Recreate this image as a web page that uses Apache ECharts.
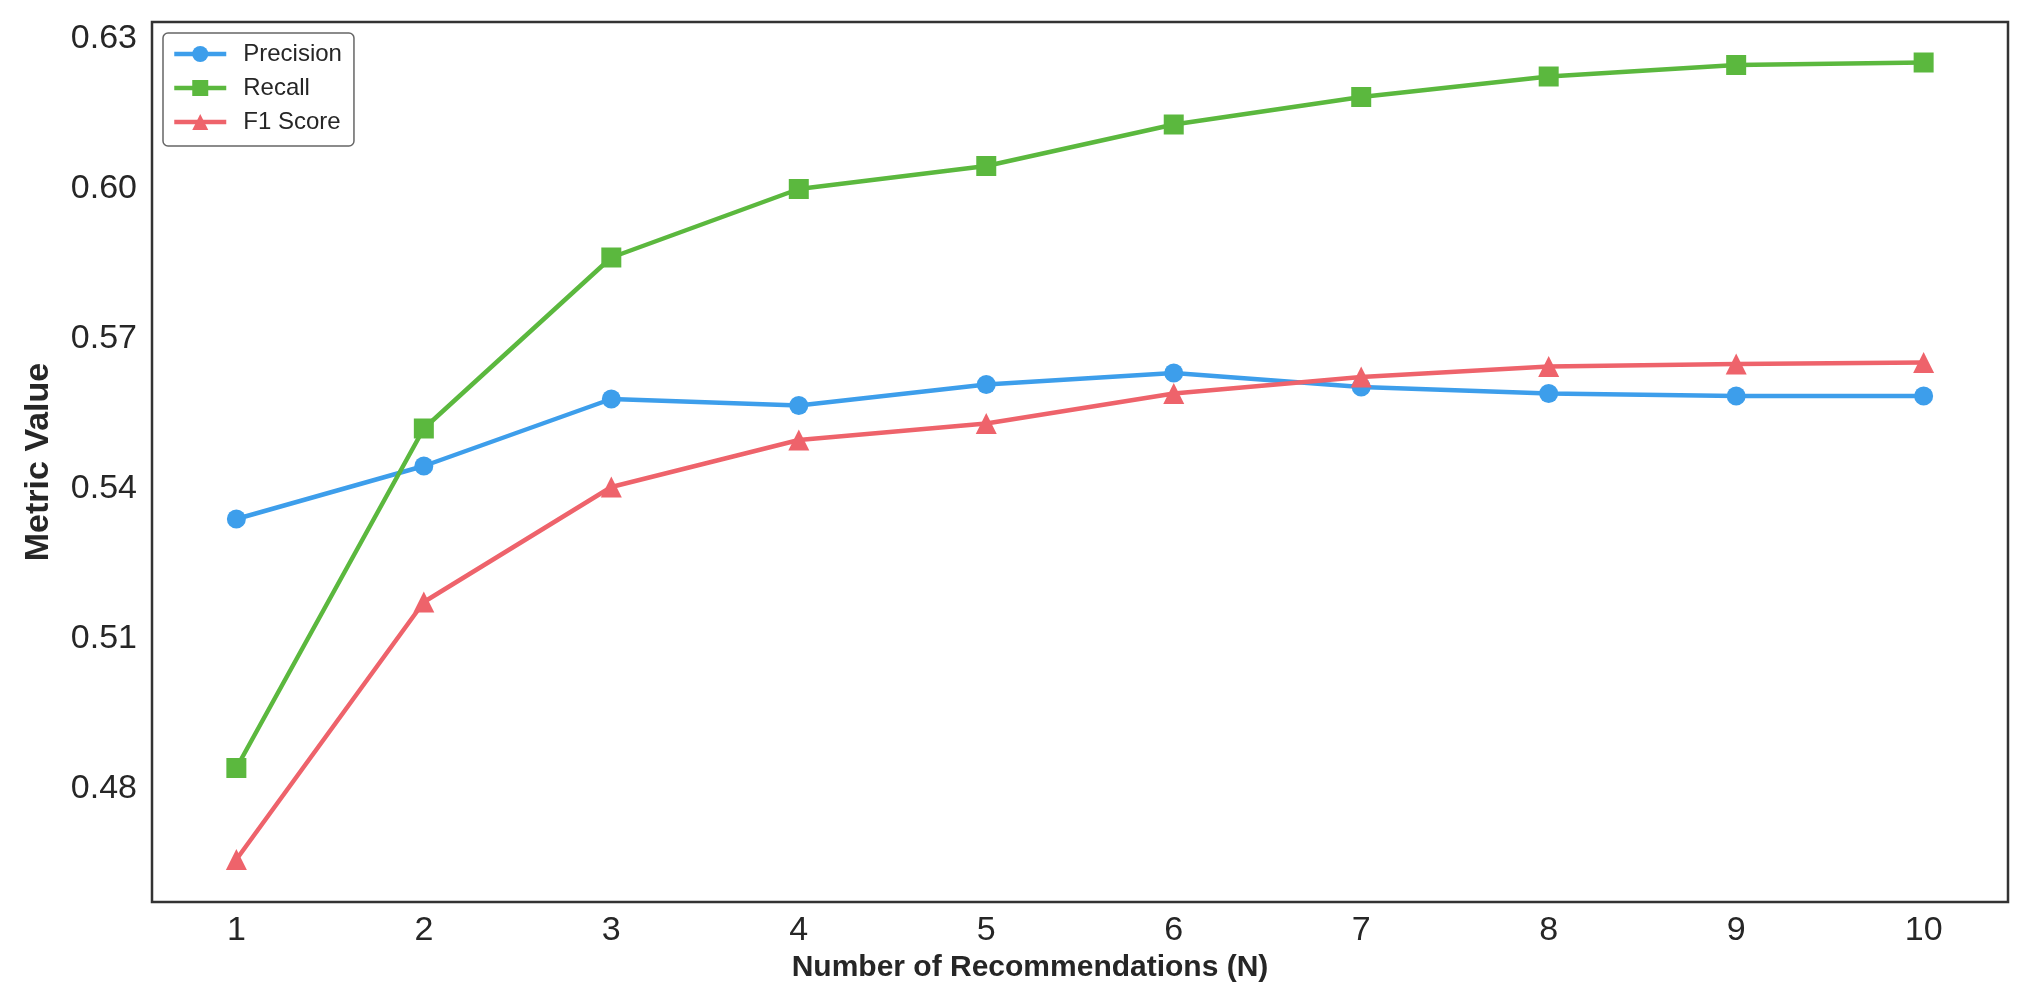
<!DOCTYPE html>
<html>
<head>
<meta charset="utf-8">
<script src="https://cdn.jsdelivr.net/npm/echarts@6/dist/echarts.min.js"></script>
<style>
html,body{margin:0;padding:0;background:#fff;}
#chart{width:2030px;height:1005px;}
</style>
</head>
<body>
<div id="chart"></div>
<script>
const categories = [1, 2, 3, 4, 5, 6, 7, 8, 9, 10];
const precision = [0.5340, 0.5446, 0.5580, 0.5567, 0.5609, 0.5632, 0.5604, 0.5591, 0.5586, 0.5586];
const recall    = [0.4842, 0.5521, 0.5863, 0.6000, 0.6046, 0.6129, 0.6184, 0.6225, 0.6248, 0.6253];
const f1score   = [0.4659, 0.5174, 0.5404, 0.5498, 0.5531, 0.5591, 0.5624, 0.5645, 0.5650, 0.5653];
const yTicks = [0.48, 0.51, 0.54, 0.57, 0.60, 0.63];

const FONT = '"Liberation Sans", Arial, "DejaVu Sans", sans-serif';
const TXT = '#262626';

function pairs(vals){ return categories.map((c,i)=>[c, vals[i]]); }

const chart = echarts.init(document.getElementById('chart'), null, {renderer:'canvas'});
chart.setOption({
  animation:false,
  backgroundColor:'#ffffff',
  grid:{left:152, right:22, top:22, bottom:103, show:true, borderColor:'#333333', borderWidth:2.5, backgroundColor:'#ffffff'},
  legend:{
    orient:'vertical', left:163, top:33,
    data:['Precision','Recall','F1 Score'],
    itemWidth:52, itemHeight:20, itemGap:10,
    padding:[9,12,12,9],
    backgroundColor:'#ffffff', borderColor:'#666666', borderWidth:1.5, borderRadius:5,
    lineStyle:{width:4.5},
    textStyle:{fontFamily:FONT, fontSize:24, color:TXT, padding:[0,0,0,12]}
  },
  xAxis:{
    type:'value', min:0.55, max:10.45,
    name:'Number of Recommendations (N)', nameLocation:'middle', nameGap:50,
    nameTextStyle:{fontFamily:FONT, fontSize:30, fontWeight:'bold', color:TXT, padding:[0,100,0,0]},
    axisLine:{show:false}, axisTick:{show:false}, splitLine:{show:false},
    axisLabel:{customValues:categories, fontFamily:FONT, fontSize:34, color:TXT, margin:12,
      formatter:v=>String(Math.round(v))}
  },
  yAxis:{
    type:'value', min:0.4574, max:0.6334,
    name:'Metric Value', nameLocation:'middle', nameGap:96,
    nameTextStyle:{fontFamily:FONT, fontSize:34, fontWeight:'bold', color:TXT},
    axisLine:{show:false}, axisTick:{show:false}, splitLine:{show:false},
    axisLabel:{customValues:yTicks, fontFamily:FONT, fontSize:34, color:TXT, margin:15,
      formatter:v=>v.toFixed(2)}
  },
  series:[
    {name:'Precision', type:'line', data:pairs(precision), symbol:'circle', symbolSize:19,
     lineStyle:{width:4.5, color:'#3D9EEB'}, itemStyle:{color:'#3D9EEB'}},
    {name:'Recall', type:'line', data:pairs(recall), symbol:'rect', symbolSize:20,
     lineStyle:{width:4.5, color:'#5BB83E'}, itemStyle:{color:'#5BB83E'}},
    {name:'F1 Score', type:'line', data:pairs(f1score), symbol:'triangle', symbolSize:21,
     lineStyle:{width:4.5, color:'#EE636B'}, itemStyle:{color:'#EE636B'}}
  ]
});
</script>
</body>
</html>
